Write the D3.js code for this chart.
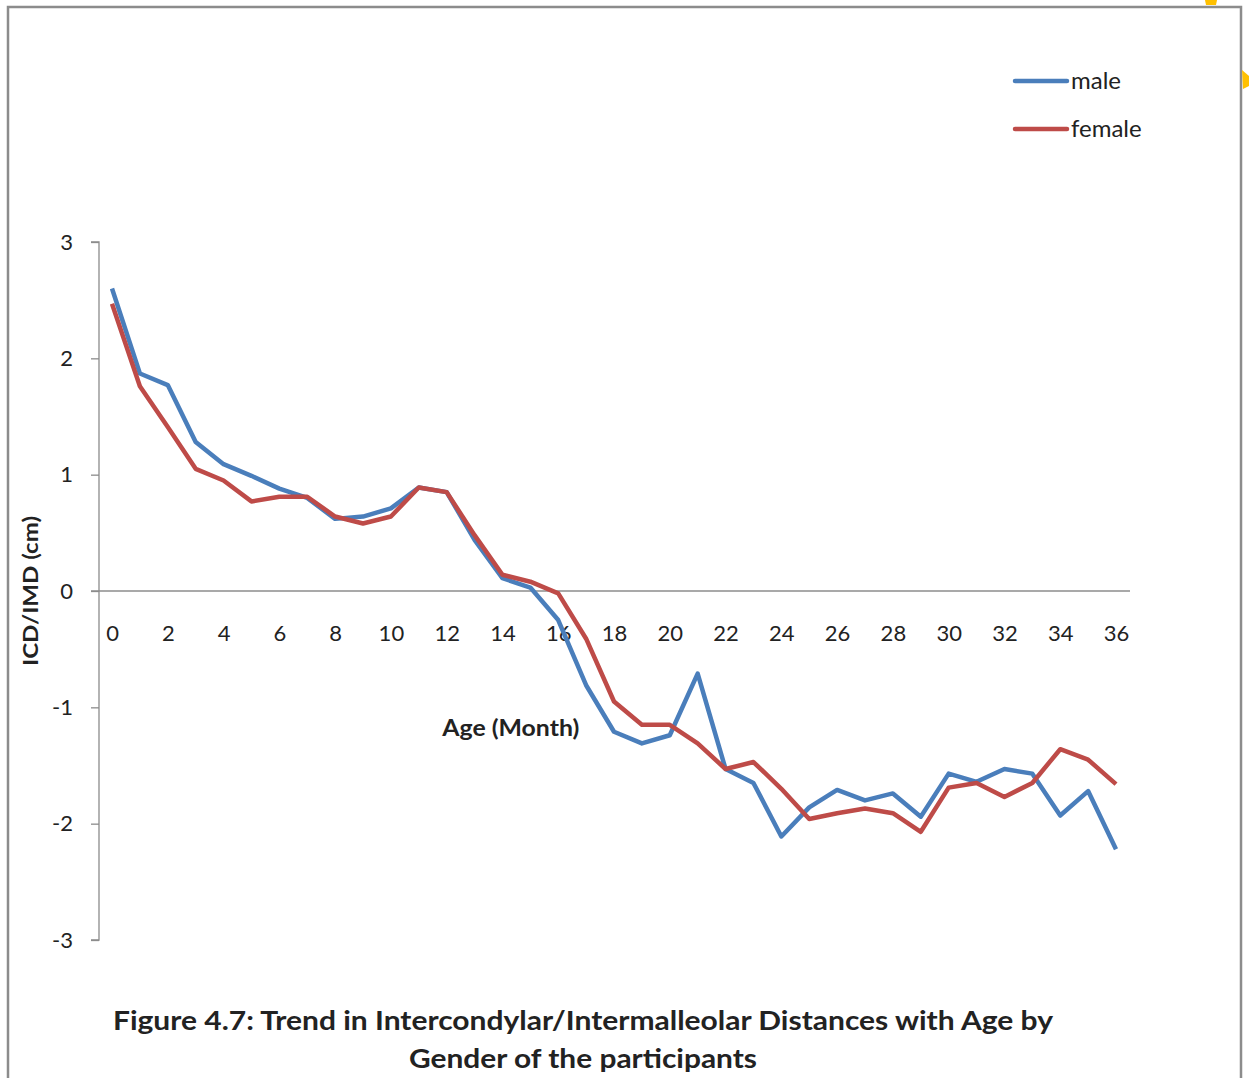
<!DOCTYPE html>
<html>
<head>
<meta charset="utf-8">
<script src="https://cdn.jsdelivr.net/npm/d3@7"></script>
<style>
  html, body { margin: 0; padding: 0; background: #fff; }
  svg { display: block; }
  text { font-family: Lato, "Open Sans", sans-serif; fill: #222; }
</style>
</head>
<body>
<svg id="chart" width="1249" height="1078"></svg>
<script>
// Age in months, 0..36
const ages = d3.range(0, 37);

// Mean ICD/IMD (cm) by age for each gender
const maleValues = [
  2.60, 1.87, 1.77, 1.28, 1.09, 0.99, 0.88, 0.80, 0.62, 0.64,
  0.71, 0.89, 0.85, 0.44, 0.11, 0.03, -0.25, -0.81, -1.21, -1.31,
  -1.24, -0.71, -1.53, -1.65, -2.11, -1.86, -1.71, -1.80, -1.74, -1.94,
  -1.57, -1.64, -1.53, -1.57, -1.93, -1.72, -2.22
];
const femaleValues = [
  2.47, 1.76, 1.41, 1.05, 0.95, 0.77, 0.81, 0.81, 0.64, 0.58,
  0.64, 0.89, 0.85, 0.48, 0.14, 0.08, -0.02, -0.41, -0.95, -1.15,
  -1.15, -1.31, -1.53, -1.47, -1.70, -1.96, -1.91, -1.87, -1.91, -2.07,
  -1.69, -1.65, -1.77, -1.65, -1.36, -1.45, -1.66
];

const seriesNames = ["male", "female"];
const seriesColors = ["#4a7ebb", "#be4b48"];
const xTicks = d3.range(0, 37, 2);
const yTicks = [-3, -2, -1, 0, 1, 2, 3];

const titleLines = [
  "Figure 4.7: Trend in Intercondylar/Intermalleolar Distances with Age by",
  "Gender of the participants"
];
const xTitle = "Age (Month)";
const yTitle = "ICD/IMD (cm)";

const svg = d3.select("#chart");

// Frame around the figure
svg.append("path")
  .attr("d", "M8,1080 L8,7 L1241,7 L1241,1080")
  .attr("fill", "none")
  .attr("stroke", "#8c8c8c")
  .attr("stroke-width", 2.5);

// Small orange-yellow shapes peeking in at the top right
svg.append("path")
  .attr("d", "M1205,0 L1217,0 L1216,5 L1206,5 Z")
  .attr("fill", "#ffc000");
svg.append("path")
  .attr("d", "M1242,70 L1249,76 L1249,86 L1243,89 Z")
  .attr("fill", "#ffc000");

const x = d3.scaleLinear().domain([0, 36]).range([112, 1116]);
const y = d3.scaleLinear().domain([-3, 3]).range([940, 242]);

// Plain hyphen for negatives
const fmt = d => String(d);

// Y axis
const yAxis = svg.append("g")
  .attr("transform", "translate(99,0)")
  .call(d3.axisLeft(y).tickValues(yTicks).tickSize(8).tickPadding(18).tickFormat(fmt));
yAxis.select(".domain").attr("stroke", "#8c8c8c").attr("stroke-width", 1.3)
  .attr("d", `M-8,${y(3)}H0V${y(-3)}H-8`);
yAxis.selectAll(".tick line").attr("stroke", "#8c8c8c").attr("stroke-width", 1.3);
yAxis.selectAll(".tick text")
  .style("font-family", "Lato, 'Open Sans', sans-serif")
  .style("font-size", "22px")
  .attr("fill", "#222");

// Zero line with tick labels beneath
const xAxis = svg.append("g")
  .attr("transform", `translate(0,${y(0)})`)
  .call(d3.axisBottom(x).tickValues(xTicks).tickSize(0).tickPadding(34).tickFormat(fmt));
xAxis.select(".domain").attr("stroke", "#8c8c8c").attr("stroke-width", 1.3)
  .attr("d", `M91,0H1130`);
xAxis.selectAll(".tick text")
  .style("font-family", "Lato, 'Open Sans', sans-serif")
  .style("font-size", "22px")
  .attr("fill", "#222")
  .attr("dy", "0.35em")
  .attr("y", 42);

// Axis titles
svg.append("text")
  .attr("x", x(14.3))
  .attr("y", 736)
  .attr("text-anchor", "middle")
  .attr("textLength", 137)
  .attr("lengthAdjust", "spacingAndGlyphs")
  .style("font-size", "23px")
  .style("font-weight", "bold")
  .text(xTitle);

svg.append("text")
  .attr("transform", "translate(38,591) rotate(-90)")
  .attr("text-anchor", "middle")
  .attr("textLength", 150)
  .attr("lengthAdjust", "spacingAndGlyphs")
  .style("font-size", "21px")
  .style("font-weight", "bold")
  .text(yTitle);

// Lines
const line = d3.line()
  .x((d, i) => x(ages[i]))
  .y(d => y(d));

[maleValues, femaleValues].forEach((vals, k) => {
  svg.append("path")
    .datum(vals)
    .attr("fill", "none")
    .attr("stroke", seriesColors[k])
    .attr("stroke-width", 4.5)
    .attr("stroke-linejoin", "round")
    .attr("d", line);
});

// Legend
const legend = svg.append("g");
seriesNames.forEach((name, k) => {
  const ly = 81 + k * 48;
  legend.append("line")
    .attr("x1", 1015).attr("x2", 1067)
    .attr("y1", ly).attr("y2", ly)
    .attr("stroke", seriesColors[k])
    .attr("stroke-width", 4.5)
    .attr("stroke-linecap", "round");
  legend.append("text")
    .attr("x", 1071)
    .attr("y", ly)
    .attr("dy", "0.35em")
    .style("font-size", "24px")
    .attr("fill", "#333")
    .text(name);
});

// Caption
svg.append("text")
  .attr("x", 113)
  .attr("y", 1030)
  .attr("textLength", 940)
  .attr("lengthAdjust", "spacingAndGlyphs")
  .style("font-size", "27px")
  .style("font-weight", "bold")
  .text(titleLines[0]);
svg.append("text")
  .attr("x", 409)
  .attr("y", 1068)
  .attr("textLength", 348)
  .attr("lengthAdjust", "spacingAndGlyphs")
  .style("font-size", "27px")
  .style("font-weight", "bold")
  .text(titleLines[1]);
</script>
</body>
</html>
